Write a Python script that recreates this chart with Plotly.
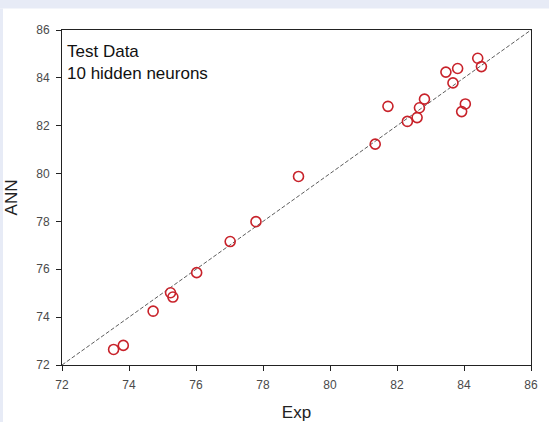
import plotly.graph_objects as go

# Experimental vs. ANN-predicted values (test set)
exp_vals = [73.54, 73.83, 74.72, 75.24, 75.31, 76.02, 77.02, 77.79, 79.06, 81.35,
            81.73, 82.31, 82.60, 82.67, 82.82, 83.46, 83.67, 83.81, 83.93, 84.04,
            84.41, 84.52]
ann_vals = [72.65, 72.82, 74.25, 75.02, 74.84, 75.86, 77.16, 77.99, 79.88, 81.23,
            82.81, 82.18, 82.34, 82.75, 83.11, 84.24, 83.79, 84.39, 82.59, 82.91,
            84.82, 84.47]

ideal_line = [72, 86]
tick_vals = [72, 74, 76, 78, 80, 82, 84, 86]

fig = go.Figure()

# y = x reference line
fig.add_trace(go.Scatter(
    x=ideal_line, y=ideal_line, mode="lines",
    line=dict(color="#333333", width=0.8, dash="4px,2px"),
    hoverinfo="skip", showlegend=False,
))

fig.add_trace(go.Scatter(
    x=exp_vals, y=ann_vals, mode="markers",
    marker=dict(symbol="circle-open", size=10, color="#c8222a",
                line=dict(width=1.6, color="#c8222a")),
    showlegend=False,
))

L, R, T, B = 62, 18, 29.5, 57
W, H = 549, 422
pw, ph = W - L - R, H - T - B
band = "#e7ebf6"

def px_x(p):
    return (p - L) / pw

def px_y(p):
    return (T + ph - p) / ph

# light-blue strips along the top and left edges of the page
fig.add_shape(type="rect", xref="paper", yref="paper", layer="below",
              x0=px_x(-2), x1=px_x(W + 2), y0=px_y(8), y1=px_y(-2),
              fillcolor=band, line=dict(width=0))
fig.add_shape(type="rect", xref="paper", yref="paper", layer="below",
              x0=px_x(-2), x1=px_x(3), y0=px_y(H + 2), y1=px_y(8),
              fillcolor=band, line=dict(width=0))

fig.add_annotation(
    x=0, y=1, xref="paper", yref="paper", xanchor="left", yanchor="top",
    xshift=3, yshift=-10, align="left", showarrow=False,
    text="Test Data<br>10 hidden neurons",
    font=dict(family="Liberation Sans, Arial", size=17, color="#111111"),
)

axis_common = dict(
    range=[72, 86], tickvals=tick_vals, ticks="outside", ticklen=5,
    tickwidth=1, tickcolor="#222222", showline=True, linecolor="#222222",
    linewidth=1, mirror=True, showgrid=False, zeroline=False,
    automargin=False, ticklabelstandoff=4,
    tickfont=dict(family="Liberation Sans, Arial", size=12, color="#4a4a4a"),
)

fig.update_layout(
    width=W, height=H,
    margin=dict(l=L, r=R, t=T, b=B),
    paper_bgcolor="white", plot_bgcolor="white",
    xaxis=dict(**axis_common,
               title=dict(text="Exp", standoff=16,
                          font=dict(family="Liberation Sans, Arial", size=17, color="#222222"))),
    yaxis=dict(**axis_common,
               title=dict(text="ANN", standoff=14,
                          font=dict(family="Liberation Sans, Arial", size=17, color="#222222"))),
)

fig.write_html("out.html")
